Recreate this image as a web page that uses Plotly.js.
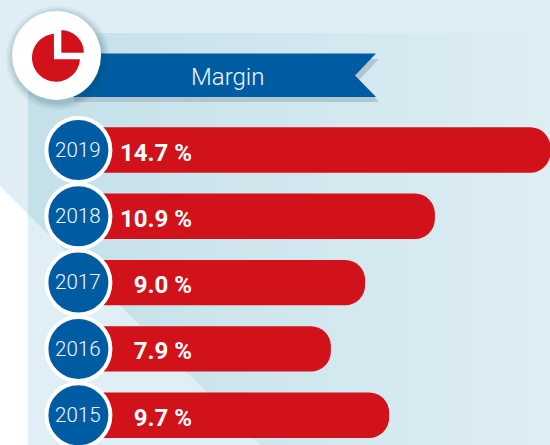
<!DOCTYPE html>
<html>
<head>
<meta charset="utf-8">
<script src="https://cdn.plot.ly/plotly-3.0.1.min.js"></script>
<style>html,body{margin:0;padding:0;background:#fff}#chart{width:550px;height:445px}</style>
</head>
<body>
<div id="chart"></div>
<script>
var years = ['2019', '2018', '2017', '2016', '2015'];
var barLengths = [14.7, 11.09, 8.91, 7.84, 9.66];
var marginLabels = ['14.7 %', '10.9 %', '9.0 %', '7.9 %', '9.7 %'];
var chartTitle = 'Margin';

var W = 550, H = 445;
var RED = '#d1121b', BLUE = '#005ca2', LIGHT = '#dfeef4';
var FONT = 'Roboto, "Open Sans", sans-serif';

function px(x) { return x / W; }
function py(y) { return 1 - y / H; }
function polygon(points, fill, opacity) {
  var d = points.map(function (p, i) {
    return (i ? 'L' : 'M') + px(p[0]).toFixed(5) + ',' + py(p[1]).toFixed(5);
  }).join(' ') + ' Z';
  return { type: 'path', xref: 'paper', yref: 'paper', path: d, fillcolor: fill,
           opacity: opacity === undefined ? 1 : opacity, line: { width: 0 }, layer: 'below' };
}
function rect(x0, y0, x1, y1, fill) {
  return polygon([[x0, y0], [x1, y0], [x1, y1], [x0, y1]], fill);
}
function circle(cx, cy, r, fill, opacity) {
  return { type: 'circle', xref: 'paper', yref: 'paper', x0: px(cx - r), x1: px(cx + r),
           y0: py(cy + r), y1: py(cy - r), fillcolor: fill,
           opacity: opacity === undefined ? 1 : opacity, line: { width: 0 }, layer: 'below' };
}
function arcPoints(cx, cy, r, a0, a1) {
  var pts = [], n = 60;
  for (var i = 0; i <= n; i++) {
    var a = (a0 + (a1 - a0) * i / n) * Math.PI / 180;
    pts.push([cx + r * Math.cos(a), cy + r * Math.sin(a)]);
  }
  return pts;
}
function mix(c0, c1, t) {
  return 'rgb(' + c0.map(function (v, i) { return Math.round(v + (c1[i] - v) * t); }).join(',') + ')';
}

var shapes = [];
// page background
shapes.push(rect(0, 0, W, H, LIGHT));
// white corner below the diagonal
shapes.push(polygon([[0, 186], [28, 214], [28, H], [0, H]], '#ffffff'));
// panel with a stepped gradient
var strips = 40;
for (var s = 0; s < strips; s++) {
  var t = s / (strips - 1);
  var x0 = 28 + (W - 28) * s / strips;
  var x1 = 28 + (W - 28) * (s + 1) / strips + 1;
  shapes.push(rect(x0, 33, x1, H, mix([196, 224, 233], [221, 237, 243], t)));
}
// light wedge under the diagonal in the panel
shapes.push(polygon([[28, 214], [260, H], [28, H]], '#e0eff5'));
// ribbon shadow and ribbon
shapes.push(polygon([[70, 59], [379, 59], [359, 80], [379, 102], [74, 102]], '#b2c6cf'));
shapes.push(polygon([[60, 53.5], [376, 53.5], [355, 75.5], [376, 97], [60, 97]], BLUE));
// badge shadow, badge, pie icon
[52, 50, 48.5, 47, 46].forEach(function (r) {
  shapes.push(circle(58, 58, r, '#1b4a5e', 0.05));
});
shapes.push(circle(56.5, 55.5, 44.5, '#ffffff'));
shapes.push(polygon([[54, 59.3]].concat(arcPoints(56, 57.7, 24, 3.8, 265)), RED));
shapes.push(polygon([[61.3, 52.7]].concat(arcPoints(61.3, 52.7, 22.5, -90, 0)), RED));

var xScale = 32, xOrigin = 80;      // pixels per unit, pixel of zero
var rowStep = 66.3, firstRow = 150; // pixels per row, pixel of first row
var yTop = -firstRow / rowStep;
var labelDrop = 4.5 / rowStep, yearDrop = 1.5 / rowStep; // text baseline nudges

var bars = {
  type: 'bar', orientation: 'h', y: years, x: barLengths,
  marker: { color: RED, line: { width: 0 } }, hoverinfo: 'none'
};
var badges = {
  type: 'scatter', mode: 'markers', y: years,
  x: years.map(function () { return -0.05; }),
  marker: { size: 64, color: BLUE, line: { color: '#ffffff', width: 4 } },
  hoverinfo: 'none', cliponaxis: false
};
var labels = {
  type: 'scatter', mode: 'text', y: years, yaxis: 'y2',
  x: years.map(function () { return 3.5; }),
  text: marginLabels, textposition: 'middle left',
  textfont: { family: FONT, size: 24, color: '#ffffff', weight: 700 },
  hoverinfo: 'none', cliponaxis: false
};
var yearText = {
  type: 'scatter', mode: 'text', y: years, yaxis: 'y3',
  x: years.map(function () { return -0.07; }),
  text: years, textposition: 'middle center',
  textfont: { family: FONT, size: 20.5, color: '#f2f8fb', weight: 300 },
  hoverinfo: 'none', cliponaxis: false
};

function rowAxis(drop) {
  return { visible: false, type: 'category', categoryorder: 'array', categoryarray: years,
           range: [yTop + H / rowStep - drop, yTop - drop], fixedrange: true };
}
var y2 = rowAxis(labelDrop); y2.overlaying = 'y';
var y3 = rowAxis(yearDrop); y3.overlaying = 'y';

var layout = {
  width: W, height: H,
  margin: { l: 0, r: 0, t: 0, b: 0, pad: 0 },
  paper_bgcolor: 'rgba(0,0,0,0)', plot_bgcolor: 'rgba(0,0,0,0)',
  showlegend: false, bargap: 0.315, barcornerradius: 20,
  xaxis: { visible: false, range: [-xOrigin / xScale, (W - xOrigin) / xScale], fixedrange: true },
  yaxis: rowAxis(0),
  yaxis2: y2,
  yaxis3: y3,
  shapes: shapes,
  annotations: [{
    xref: 'paper', yref: 'paper', x: px(227.5), y: py(76.5), xanchor: 'center', yanchor: 'middle',
    text: chartTitle, showarrow: false,
    font: { family: FONT, size: 24, color: '#f0f7fb', weight: 300 }
  }]
};
Plotly.newPlot('chart', [bars, badges, labels, yearText], layout, { displayModeBar: false, staticPlot: true });
</script>
</body>
</html>
